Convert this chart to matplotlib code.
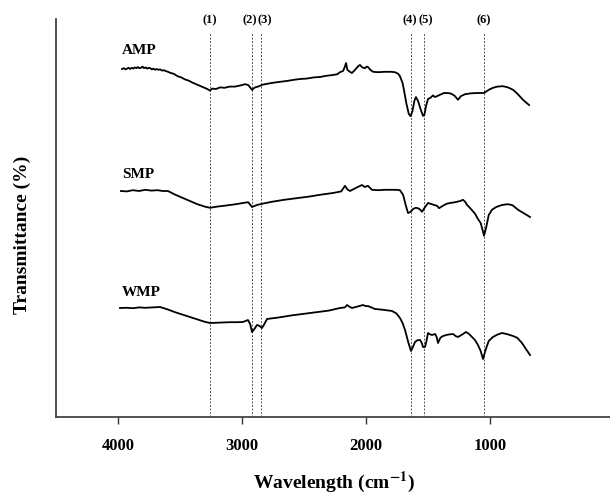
import matplotlib
matplotlib.use('Agg')
import matplotlib.pyplot as plt

plt.rcParams['font.family'] = 'Liberation Serif'
plt.rcParams['font.weight'] = 'bold'
plt.rcParams['mathtext.fontset'] = 'stix'

# wavenumber (cm-1) and transmittance (arbitrary offset units)
amp_wn = [3968, 3952, 3940, 3927, 3915, 3902, 3890, 3877, 3865, 3852, 3840, 3828, 3815, 3802,
          3790, 3777, 3765, 3752, 3740, 3727, 3715, 3702, 3690, 3675, 3660, 3645, 3630, 3617, 3605,
          3575, 3550, 3520, 3490, 3460, 3430, 3400, 3370, 3340, 3310, 3280, 3258,
          3240, 3210, 3177, 3140, 3100, 3056, 3010, 2976, 2950, 2919, 2895, 2871, 2831, 2780,
          2740, 2693, 2640, 2580, 2532, 2480, 2420, 2371, 2320, 2266, 2230, 2210, 2185, 2170,
          2161, 2150, 2130, 2113, 2085, 2060, 2048, 2030, 2008, 1995, 1984, 1965, 1943, 1900,
          1850, 1800, 1766, 1740, 1726, 1705, 1694, 1675, 1655, 1640, 1625, 1610, 1597, 1580,
          1560, 1540, 1530, 1515, 1500, 1480, 1460, 1445, 1427, 1400, 1370, 1347, 1320, 1306,
          1285, 1258, 1235, 1201, 1160, 1105, 1048, 1010, 976, 940, 895, 855, 814, 775, 734, 685]
amp_t = [87.0, 87.2, 86.9, 87.1, 87.3, 87.0, 87.3, 87.1, 87.4, 87.2, 87.5, 87.2, 87.3, 87.6,
         87.2, 87.4, 87.1, 87.3, 87.2, 86.9, 87.1, 86.8, 87.0, 86.8, 86.9, 86.6, 86.7, 86.5, 86.4,
         86.0, 85.8, 85.2, 84.9, 84.4, 84.1, 83.6, 83.2, 82.8, 82.4, 82.0, 81.6,
         82.1, 82.0, 82.4, 82.3, 82.6, 82.6, 82.9, 83.2, 83.0, 81.8, 82.4, 82.6, 83.1, 83.4,
         83.6, 83.8, 84.0, 84.3, 84.5, 84.6, 84.9, 85.0, 85.3, 85.5, 85.7, 86.2, 86.5, 87.6,
         88.5, 86.8, 86.3, 86.0, 86.9, 87.8, 88.0, 87.4, 87.2, 87.6, 87.5, 86.8, 86.3, 86.2,
         86.3, 86.3, 86.2, 85.8, 85.2, 83.5, 81.8, 78.5, 75.8, 75.2, 76.5, 79.0, 80.0, 79.0,
         77.0, 75.3, 75.4, 77.8, 79.5, 79.8, 80.4, 80.0, 80.2, 80.6, 81.0, 81.0, 80.9, 80.7,
         80.3, 79.3, 80.2, 80.7, 80.9, 81.0, 81.0, 81.8, 82.3, 82.6, 82.7, 82.4, 81.8, 80.7, 79.3, 78.0]

smp_wn = [3976, 3930, 3880, 3830, 3780, 3730, 3680, 3640, 3597, 3540, 3480, 3420, 3360, 3300,
          3258, 3200, 3120, 3050, 2992, 2950, 2919, 2880, 2839, 2760, 2660, 2560, 2460,
          2360, 2266, 2200, 2169, 2150, 2129, 2080, 2032, 2010, 1984, 1952, 1900, 1850,
          1800, 1760, 1726, 1700, 1680, 1661, 1640, 1620, 1600, 1581, 1565, 1548, 1530, 1500,
          1470, 1440, 1427, 1411, 1380, 1350, 1322, 1280, 1240, 1218, 1200, 1185, 1165, 1145,
          1120, 1097, 1075, 1060, 1048, 1030, 1010, 984, 950, 903, 860, 822, 800, 774, 730, 677]
smp_t = [56.5, 56.4, 56.7, 56.5, 56.8, 56.6, 56.7, 56.5, 56.5, 55.6, 54.8, 54.0, 53.2, 52.6,
         52.3, 52.6, 52.9, 53.2, 53.5, 53.7, 52.5, 53.0, 53.3, 53.8, 54.3, 54.7, 55.1,
         55.6, 56.0, 56.4, 57.8, 56.9, 56.5, 57.3, 58.0, 57.5, 57.8, 56.8, 56.7, 56.8,
         56.8, 56.8, 56.7, 55.5, 53.0, 51.0, 51.3, 52.0, 52.3, 52.2, 51.9, 51.3, 52.2, 53.5,
         53.2, 52.9, 52.8, 52.2, 52.8, 53.3, 53.5, 53.7, 54.0, 54.3, 53.8, 53.0, 52.4, 51.7,
         50.8, 49.5, 48.5, 46.8, 45.3, 47.5, 50.5, 51.8, 52.5, 53.0, 53.2, 53.0, 52.5, 51.8, 51.0, 50.0]

wmp_wn = [3984, 3930, 3880, 3830, 3780, 3720, 3661, 3600, 3540, 3480, 3420, 3360, 3300, 3258,
          3180, 3100, 3040, 2992, 2952, 2935, 2919, 2900, 2879, 2860, 2839, 2820, 2798,
          2700, 2600, 2500, 2400, 2300, 2210, 2170, 2153, 2135, 2113, 2070, 2024, 2000,
          1984, 1927, 1860, 1790, 1755, 1726, 1705, 1685, 1660, 1637, 1620, 1605, 1585,
          1564, 1550, 1540, 1524, 1512, 1500, 1485, 1468, 1443, 1430, 1419, 1400, 1379,
          1340, 1298, 1275, 1258, 1225, 1193, 1170, 1145, 1120, 1097, 1075, 1056, 1035,
          1010, 976, 940, 903, 860, 814, 780, 742, 710, 677]
wmp_t = [27.25, 27.3, 27.2, 27.4, 27.3, 27.4, 27.5, 26.9, 26.2, 25.6, 25.0, 24.4, 23.8, 23.5,
         23.6, 23.7, 23.7, 23.75, 24.25, 23.3, 21.25, 22.0, 23.0, 22.8, 22.25, 23.2, 24.5,
         24.9, 25.4, 25.8, 26.2, 26.6, 27.25, 27.4, 28.0, 27.6, 27.25, 27.6, 28.0, 27.7,
         27.75, 27.0, 26.8, 26.5, 25.9, 24.75, 23.5, 21.75, 18.8, 16.5, 17.6, 18.75, 19.2,
         19.25, 18.5, 17.5, 17.5, 19.0, 21.0, 20.7, 20.5, 20.75, 20.0, 18.5, 19.8, 20.25,
         20.6, 20.75, 20.2, 20.0, 20.6, 21.25, 20.8, 20.0, 19.2, 18.0, 16.5, 14.5, 16.8,
         19.0, 20.0, 20.6, 21.0, 20.7, 20.25, 19.8, 18.5, 17.0, 15.5]

band_pos = [3260, 2918, 2850, 1636, 1530, 1052]
band_labels = ['(1)', '(2)', '(3)', '(4)', '(5)', '(6)']

sample_names = ['AMP', 'SMP', 'WMP']
name_y = [91.5, 60.5, 31.0]

fig = plt.figure(figsize=(6.1, 4.94), dpi=100)
ax = fig.add_axes([56 / 610, 77 / 494, 1 - 56 / 610, 398 / 494])

for wn in band_pos:
    ax.plot([wn, wn], [0, 96.25], color='#555555', lw=0.7, ls=(0, (2, 1.6)))
# small sideways nudges so the close labels sit side by side
label_nudge = [0, -1.5, 3.0, -0.8, 1.2, 0]
for wn, lab, dx in zip(band_pos, band_labels, label_nudge):
    ax.annotate(lab, (wn, 99.25), xytext=(dx, 0), textcoords='offset points',
                ha='center', va='center', fontsize=9, fontweight='bold', annotation_clip=False)

for wn, t in [(amp_wn, amp_t), (smp_wn, smp_t), (wmp_wn, wmp_t)]:
    ax.plot(wn, t, color='black', lw=1.3)

for name, y in zip(sample_names, name_y):
    ax.text(3968, y, name, ha='left', va='center', fontsize=11, fontweight='bold')

ax.set_xlim(4500, 32)
ax.set_ylim(0, 99.5)
ax.set_xticks([4000, 3000, 2000, 1000])
ax.set_xticklabels(['4000', '3000', '2000', '1000'], fontsize=12, fontweight='bold')
ax.set_yticks([])
ax.tick_params(axis='x', direction='out', length=5, width=1, color='#333333', pad=10)
for side in ['top', 'right']:
    ax.spines[side].set_visible(False)
for side in ['left', 'bottom']:
    ax.spines[side].set_color('#444444')
    ax.spines[side].set_linewidth(1.3)

fig.text(334 / 610, 1 - 482 / 494, r'Wavelength (cm$^{\mathbf{-1}}$)', ha='center', va='center',
         fontsize=14, fontweight='bold')
fig.text(22 / 610, 1 - 235 / 494, 'Transmittance (%)', ha='center', va='center', rotation=90,
         fontsize=14, fontweight='bold')

fig.savefig('out.png', dpi=100)
